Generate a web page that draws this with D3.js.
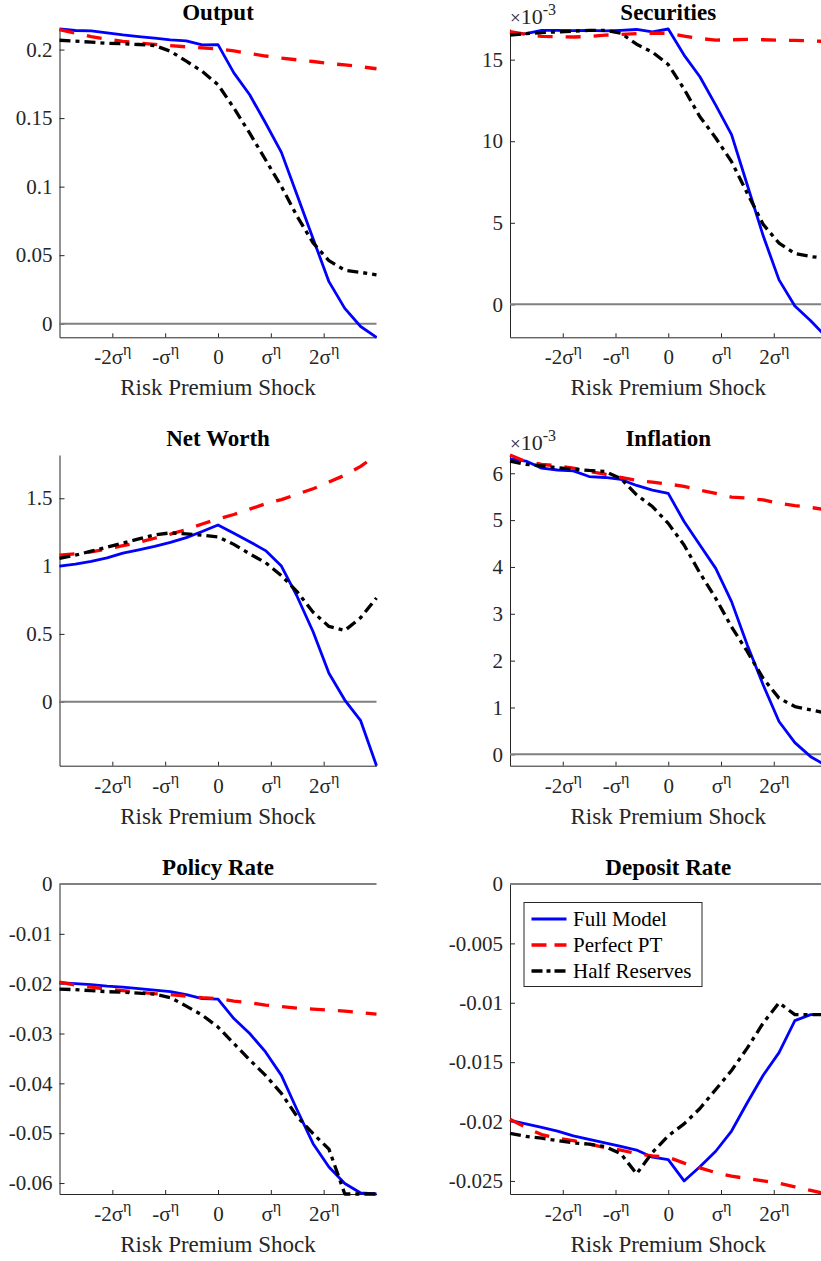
<!DOCTYPE html>
<html>
<head>
<meta charset="utf-8">
<script src="https://d3js.org/d3.v7.min.js"></script>
<style>
body { margin: 0; background: #fff; }
svg { display: block; }
</style>
</head>
<body>
<script>

var w = 821, h = 1261;
var font = "'Liberation Serif', 'Times New Roman', serif";

// shock grid (in units of sigma^eta)
var shock = [-3, -2.7, -2.4, -2.1, -1.8, -1.5, -1.2, -0.9, -0.6, -0.3, 0, 0.3, 0.6, 0.9, 1.2, 1.5, 1.8, 2.1, 2.4, 2.7, 3];
var xTicks = [-2, -1, 0, 1, 2];
var xTickBase = ["-2σ", "-σ", "0", "σ", "2σ"];
var xTickSup = ["η", "η", "", "η", "η"];

var seriesNames = ["Full Model", "Perfect PT", "Half Reserves"];

// Output
var outputFull = [0.215, 0.2139, 0.2137, 0.2122, 0.2107, 0.2095, 0.2083, 0.2071, 0.2063, 0.2034, 0.2036, 0.183, 0.167, 0.1464, 0.125, 0.0936, 0.062, 0.0307, 0.0112, -0.002, -0.0099];
var outputPT = [0.2145, 0.212, 0.2095, 0.2075, 0.206, 0.2048, 0.2038, 0.2028, 0.202, 0.2013, 0.2005, 0.199, 0.1972, 0.1953, 0.1937, 0.1925, 0.1913, 0.1898, 0.1888, 0.1875, 0.186];
var outputHalf = [0.2068, 0.2061, 0.2054, 0.2046, 0.2042, 0.2037, 0.2029, 0.1988, 0.1915, 0.1841, 0.1744, 0.1574, 0.139, 0.1196, 0.1001, 0.0782, 0.059, 0.046, 0.039, 0.0375, 0.0356];
var outputTicks = [0, 0.05, 0.1, 0.15, 0.2];
var outputTickLabels = ["0", "0.05", "0.1", "0.15", "0.2"];

// Securities (x 10^-3)
var securitiesFull = [16.56, 16.6, 16.8, 16.8, 16.78, 16.8, 16.77, 16.8, 16.85, 16.7, 16.88, 15.28, 13.95, 12.21, 10.4, 7.3, 4.2, 1.5, -0.1, -1.0, -2.02];
var securitiesPT = [16.72, 16.55, 16.43, 16.41, 16.39, 16.42, 16.5, 16.55, 16.6, 16.62, 16.62, 16.45, 16.3, 16.2, 16.22, 16.24, 16.22, 16.2, 16.18, 16.15, 16.12];
var securitiesHalf = [16.5, 16.6, 16.66, 16.7, 16.75, 16.8, 16.8, 16.62, 15.95, 15.46, 14.7, 13.2, 11.5, 10.2, 8.75, 6.8, 4.9, 3.75, 3.12, 2.93, 2.82];
var securitiesTicks = [0, 5, 10, 15];
var securitiesTickLabels = ["0", "5", "10", "15"];

// Net Worth
var netWorthFull = [1.0, 1.015, 1.035, 1.06, 1.095, 1.12, 1.145, 1.175, 1.21, 1.255, 1.303, 1.242, 1.18, 1.114, 1.0, 0.774, 0.516, 0.21, 0.012, -0.14, -0.472];
var netWorthPT = [1.08, 1.09, 1.105, 1.125, 1.15, 1.175, 1.205, 1.235, 1.27, 1.31, 1.347, 1.38, 1.42, 1.46, 1.49, 1.53, 1.57, 1.62, 1.67, 1.735, 1.819];
var netWorthHalf = [1.057, 1.08, 1.11, 1.14, 1.17, 1.2, 1.229, 1.245, 1.237, 1.228, 1.215, 1.16, 1.09, 1.025, 0.93, 0.81, 0.66, 0.555, 0.525, 0.62, 0.765];
var netWorthTicks = [0, 0.5, 1, 1.5];
var netWorthTickLabels = ["0", "0.5", "1", "1.5"];

// Inflation (x 10^-3)
var inflationFull = [6.306, 6.26, 6.11, 6.07, 6.05, 5.93, 5.91, 5.87, 5.74, 5.64, 5.57, 4.97, 4.47, 3.97, 3.26, 2.33, 1.48, 0.7, 0.25, -0.05, -0.243];
var inflationPT = [6.39, 6.25, 6.19, 6.16, 6.11, 6.04, 5.98, 5.91, 5.85, 5.81, 5.77, 5.72, 5.64, 5.57, 5.49, 5.47, 5.43, 5.36, 5.31, 5.27, 5.22];
var inflationHalf = [6.26, 6.19, 6.16, 6.12, 6.09, 6.06, 6.04, 5.89, 5.54, 5.29, 4.93, 4.47, 3.87, 3.33, 2.72, 2.19, 1.62, 1.2, 1.02, 0.95, 0.88];
var inflationTicks = [0, 1, 2, 3, 4, 5, 6];
var inflationTickLabels = ["0", "1", "2", "3", "4", "5", "6"];

// Policy Rate
var policyFull = [-0.0198, -0.02, -0.0202, -0.0205, -0.0207, -0.021, -0.0213, -0.0216, -0.0222, -0.023, -0.0231, -0.027, -0.03, -0.0337, -0.0384, -0.0454, -0.0521, -0.0568, -0.0601, -0.062, -0.0622];
var policyPT = [-0.0197, -0.0203, -0.0207, -0.0211, -0.0214, -0.0217, -0.022, -0.0222, -0.0225, -0.0228, -0.023, -0.0235, -0.0238, -0.0243, -0.0246, -0.0249, -0.0251, -0.0253, -0.0255, -0.0258, -0.0261];
var policyHalf = [-0.0211, -0.0212, -0.0214, -0.0216, -0.0217, -0.0219, -0.0221, -0.0228, -0.0245, -0.0263, -0.0287, -0.032, -0.0353, -0.0384, -0.042, -0.0467, -0.0501, -0.0532, -0.0622, -0.0622, -0.0622];
var policyTicks = [-0.06, -0.05, -0.04, -0.03, -0.02, -0.01, 0];
var policyTickLabels = ["-0.06", "-0.05", "-0.04", "-0.03", "-0.02", "-0.01", "0"];

// Deposit Rate
var depositFull = [-0.0199, -0.0202, -0.0205, -0.0208, -0.0212, -0.0215, -0.0218, -0.0221, -0.0224, -0.023, -0.0232, -0.025, -0.0238, -0.0225, -0.0208, -0.0184, -0.0161, -0.0142, -0.0115, -0.011, -0.011];
var depositPT = [-0.0198, -0.0205, -0.0211, -0.0214, -0.0216, -0.0219, -0.0222, -0.0224, -0.0227, -0.0229, -0.023, -0.0235, -0.0239, -0.0243, -0.0246, -0.0248, -0.025, -0.0252, -0.0255, -0.0258, -0.0261];
var depositHalf = [-0.021, -0.02125, -0.0214, -0.0216, -0.0218, -0.0219, -0.0221, -0.0227, -0.0244, -0.0226, -0.0212, -0.0202, -0.0189, -0.0173, -0.0157, -0.0138, -0.0117, -0.01, -0.011, -0.011, -0.011];
var depositTicks = [-0.025, -0.02, -0.015, -0.01, -0.005, 0];
var depositTickLabels = ["-0.025", "-0.02", "-0.015", "-0.01", "-0.005", "0"];

var cols = [[59.5, 376.5], [510, 826.5]];
var rows = [[29, 337.3], [455, 765.7], [884, 1194]];

var colors = ["#0000ff", "#ff0000", "#000000"];
var dashes = [null, "15,13", "11,5,4,5"];
var widths = [2.8, 3.3, 3.3];

var panels = [
  {title: "Output", s: [outputFull, outputPT, outputHalf], ticks: outputTicks, labels: outputTickLabels, col: 0, row: 0},
  {title: "Securities", s: [securitiesFull, securitiesPT, securitiesHalf], ticks: securitiesTicks, labels: securitiesTickLabels, col: 1, row: 0, exp: "-3"},
  {title: "Net Worth", s: [netWorthFull, netWorthPT, netWorthHalf], ticks: netWorthTicks, labels: netWorthTickLabels, col: 0, row: 1},
  {title: "Inflation", s: [inflationFull, inflationPT, inflationHalf], ticks: inflationTicks, labels: inflationTickLabels, col: 1, row: 1, exp: "-3"},
  {title: "Policy Rate", s: [policyFull, policyPT, policyHalf], ticks: policyTicks, labels: policyTickLabels, col: 0, row: 2},
  {title: "Deposit Rate", s: [depositFull, depositPT, depositHalf], ticks: depositTicks, labels: depositTickLabels, col: 1, row: 2, legend: true}
];

var svg = d3.select("body").append("svg").attr("width", w).attr("height", h);

function drawPanel(p){
  var xr = cols[p.col], yr = rows[p.row];
  var x = d3.scaleLinear().domain([-3, 3]).range(xr);
  // axis tight, zero line included
  var all = p.s[0].concat(p.s[1], p.s[2], [0]);
  var y = d3.scaleLinear().domain(d3.extent(all)).range([yr[1], yr[0]]);
  var g = svg.append("g");

  g.append("g").attr("transform", "translate(" + xr[0] + ",0)")
    .call(d3.axisLeft(y).tickValues(p.ticks)
      .tickFormat(function(d, i){ return p.labels[i]; })
      .tickSizeInner(-5).tickSizeOuter(0).tickPadding(7));

  var xAxis = g.append("g").attr("transform", "translate(0," + yr[1] + ")")
    .call(d3.axisBottom(x).tickValues(xTicks).tickSizeInner(-4).tickSizeOuter(0));

  g.selectAll(".domain, .tick line").attr("stroke", "#262626").attr("stroke-width", 1);
  g.selectAll(".tick text").attr("fill", "#262626").attr("font-family", font).attr("font-size", "21px");

  xAxis.selectAll(".tick text").each(function(d, i){
    var t = d3.select(this).attr("y", 27).attr("dy", null).text(xTickBase[i]);
    if(xTickSup[i]){
      t.append("tspan").attr("dy", "-0.55em").attr("font-size", "16px").text(xTickSup[i]);
    }
  });

  // zero line
  g.append("line")
    .attr("x1", x(-3)).attr("x2", x(3))
    .attr("y1", y(0)).attr("y2", y(0))
    .attr("stroke", "#808080").attr("stroke-width", 2);

  var line = d3.line().x(function(d, i){ return x(shock[i]); }).y(function(d){ return y(d); });

  p.s.forEach(function(ser, k){
    g.append("path").datum(ser)
      .attr("d", line)
      .attr("fill", "none")
      .attr("stroke", colors[k])
      .attr("stroke-width", widths[k])
      .attr("stroke-dasharray", dashes[k])
      .attr("stroke-linejoin", "round");
  });

  var cx = (xr[0] + xr[1]) / 2;
  g.append("text").text(p.title)
    .attr("x", cx).attr("y", yr[0] - 9)
    .attr("text-anchor", "middle").attr("font-family", font)
    .attr("font-size", "23px").attr("font-weight", "bold").attr("fill", "#000");

  g.append("text").text("Risk Premium Shock")
    .attr("x", cx).attr("y", yr[1] + 58)
    .attr("text-anchor", "middle").attr("font-family", font)
    .attr("font-size", "23px").attr("fill", "#262626");

  if(p.exp){
    var e = g.append("text").attr("x", xr[0]).attr("y", yr[0] - 5)
      .attr("font-family", font).attr("font-size", "22px").attr("fill", "#262626");
    e.append("tspan").attr("font-size", "19px").text("×");
    e.append("tspan").text("10");
    e.append("tspan").attr("dy", "-0.55em").attr("font-size", "16px").text(p.exp);
  }

  if(p.legend){
    var lg = g.append("g").attr("transform", "translate(524,902.5)");
    lg.append("rect").attr("width", 178).attr("height", 84)
      .attr("fill", "#fff").attr("stroke", "#262626").attr("stroke-width", 1);
    var legDash = [null, "15,8", "11,4,4,4"];
    seriesNames.forEach(function(name, k){
      var yy = 16.5 + k * 26;
      lg.append("line").attr("x1", 7.5).attr("x2", 42.5).attr("y1", yy).attr("y2", yy)
        .attr("stroke", colors[k]).attr("stroke-width", widths[k])
        .attr("stroke-dasharray", legDash[k]);
      lg.append("text").text(name).attr("x", 49).attr("y", yy).attr("dy", "0.35em")
        .attr("font-family", font).attr("font-size", "21px").attr("fill", "#000");
    });
  }
}

panels.forEach(drawPanel);

</script>
</body>
</html>
